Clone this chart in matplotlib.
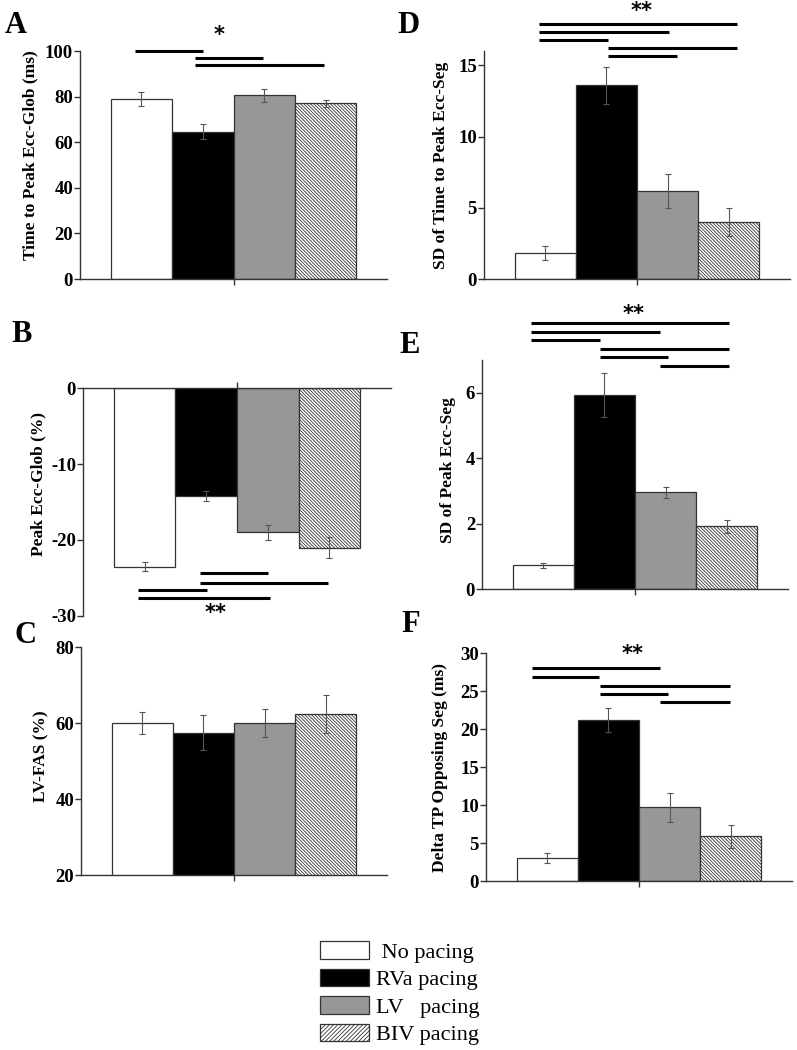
import matplotlib
matplotlib.use('Agg')
import matplotlib.pyplot as plt
from matplotlib.patches import Patch

plt.rcParams['font.family'] = ['Liberation Serif', 'DejaVu Serif']
plt.rcParams['hatch.linewidth'] = 0.6
plt.rcParams['hatch.color'] = '#444444'

groups = [' No pacing', 'RVa pacing', 'LV   pacing', 'BIV pacing']
positions = [1, 2, 3, 4]

# values (mean, error)
ttp_glob = [79.0, 64.5, 80.5, 77.0]
ttp_glob_err = [3.0, 3.3, 3.0, 1.5]
peak_glob = [-23.5, -14.2, -19.0, -21.0]
peak_glob_err = [0.6, 0.7, 1.0, 1.4]
lv_fas = [60.0, 57.5, 60.0, 62.5]
lv_fas_err = [2.9, 4.7, 3.8, 5.0]
sd_ttp_seg = [1.8, 13.6, 6.2, 4.0]
sd_ttp_seg_err = [0.5, 1.3, 1.2, 1.0]
sd_peak_seg = [0.72, 5.93, 2.95, 1.92]
sd_peak_seg_err = [0.07, 0.67, 0.17, 0.2]
delta_tp = [3.0, 21.2, 9.7, 5.9]
delta_tp_err = [0.65, 1.6, 1.9, 1.5]

# significance bars: (x start, x end, y)
sig_a = [(0.9, 2.0, 100.0), (1.87, 2.98, 97.1), (1.87, 3.97, 93.9)]
sig_b = [(1.9, 3.0, -24.3), (1.9, 3.98, -25.6), (0.89, 2.01, -26.6), (0.89, 3.04, -27.6)]
sig_d = [(0.9, 4.14, 17.9), (0.9, 3.02, 17.35), (0.9, 2.02, 16.77),
         (2.03, 4.14, 16.19), (2.03, 3.15, 15.67)]
sig_e = [(0.8, 4.03, 8.13), (0.8, 2.91, 7.87), (0.8, 1.92, 7.6),
         (1.93, 4.03, 7.35), (1.93, 3.04, 7.08), (2.91, 4.03, 6.82)]
sig_f = [(0.75, 2.85, 28.0), (0.75, 1.85, 26.9), (1.87, 3.98, 25.7),
         (1.87, 2.98, 24.6), (2.85, 3.98, 23.5)]

colors = ['white', 'black', '#979797', 'white']
hatches = [None, None, None, '\\' * 10]

W, H = 797, 1050
fig = plt.figure(figsize=(W / 100, H / 100), dpi=100)


def px_rect(l, r, top, bot):
    return [l / W, 1 - bot / H, (r - l) / W, (bot - top) / H]


panels = [
    dict(rect=px_rect(80, 387, 51, 279), vals=ttp_glob, err=ttp_glob_err, ylim=(0, 100),
         yticks=[0, 20, 40, 60, 80, 100], ylabel='Time to Peak Ecc-Glob (ms)', ly=0.544, lp=5,
         letter='A', lpos=(5, 33), sig=sig_a, star='*', spos=(2.26, 107)),
    dict(rect=px_rect(83, 391, 388, 616), vals=peak_glob, err=peak_glob_err, ylim=(-30, 0),
         yticks=[-30, -20, -10, 0], ylabel='Peak Ecc-Glob (%)', ly=0.58, lp=3,
         letter='B', lpos=(11, 342), sig=sig_b, star='**', spos=(2.15, -29.6), top=True),
    dict(rect=px_rect(81, 387, 647, 875), vals=lv_fas, err=lv_fas_err, ylim=(20, 80),
         yticks=[20, 40, 60, 80], ylabel='LV-FAS (%)', ly=0.52, lp=4,
         letter='C', lpos=(14, 643), sig=[], star=None, spos=None),
    dict(rect=px_rect(484, 790, 51, 279), vals=sd_ttp_seg, err=sd_ttp_seg_err, ylim=(0, 16),
         yticks=[0, 5, 10, 15], ylabel='SD of Time to Peak Ecc-Seg', ly=0.5, lp=7,
         letter='D', lpos=(397, 33), sig=sig_d, star='**', spos=(2.58, 18.8)),
    dict(rect=px_rect(482, 788, 360, 589), vals=sd_peak_seg, err=sd_peak_seg_err, ylim=(0, 7),
         yticks=[0, 2, 4, 6], ylabel='SD of Peak Ecc-Seg', ly=0.52, lp=7,
         letter='E', lpos=(399, 353), sig=sig_e, star='**', spos=(2.47, 8.4)),
    dict(rect=px_rect(486, 792, 653, 881), vals=delta_tp, err=delta_tp_err, ylim=(0, 30),
         yticks=[0, 5, 10, 15, 20, 25, 30], ylabel='Delta TP Opposing Seg (ms)', ly=0.5, lp=9,
         letter='F', lpos=(401, 632), sig=sig_f, star='**', spos=(2.4, 29.9)),
]

for p in panels:
    ax = fig.add_axes(p['rect'])
    for x, v, c, h in zip(positions, p['vals'], colors, hatches):
        ax.bar(x, v, width=1.0, color=c, edgecolor='#333333', linewidth=0.9,
               hatch=h, zorder=2)
    ax.errorbar(positions, p['vals'], yerr=p['err'], fmt='none', ecolor='#555555',
                elinewidth=0.8, capsize=2.5, capthick=0.8, zorder=3)
    ax.set_xlim(0, 5)
    ax.set_ylim(*p['ylim'])
    ax.set_yticks(p['yticks'])
    ax.set_yticklabels([str(t) for t in p['yticks']], fontsize=13.5, fontweight='bold')
    ax.set_xticks([2.5])
    ax.set_xticklabels([''])
    ax.spines['right'].set_visible(False)
    if p.get('top'):
        ax.spines['bottom'].set_visible(False)
        ax.xaxis.tick_top()
    else:
        ax.spines['top'].set_visible(False)
    for s in ax.spines.values():
        s.set_color('#333333')
        s.set_linewidth(1.0)
    ax.tick_params(axis='both', direction='out', length=4, width=1.0,
                   color='#333333', pad=1)
    ax.set_ylabel(p['ylabel'], fontsize=12.5, fontweight='bold', labelpad=p['lp'])
    ax.yaxis.label.set_y(p['ly'])
    ax.patch.set_alpha(0)

    for x0, x1, y in p['sig']:
        ax.plot([x0, x1], [y, y], color='black', linewidth=2.2,
                solid_capstyle='butt', clip_on=False, zorder=4)
    if p['star']:
        ax.text(p['spos'][0], p['spos'][1], p['star'], fontsize=15, fontweight='bold',
                family='DejaVu Sans', ha='center', va='center', clip_on=False)

    fig.text(p['lpos'][0] / W, 1 - p['lpos'][1] / H, p['letter'], fontsize=22,
             fontweight='bold', ha='left', va='baseline')

handles = [Patch(facecolor=c, edgecolor='#333333', linewidth=0.9,
                 hatch=('/' * 8 if h else None)) for c, h in zip(colors, hatches)]
fig.legend(handles, groups, loc='upper left', bbox_to_anchor=(320 / W, 1 - 941 / H),
           frameon=False, fontsize=16, handlelength=2.2, handleheight=0.85,
           handletextpad=0.3, labelspacing=0.27, borderpad=0, borderaxespad=0)

fig.savefig('out.png', dpi=100)
